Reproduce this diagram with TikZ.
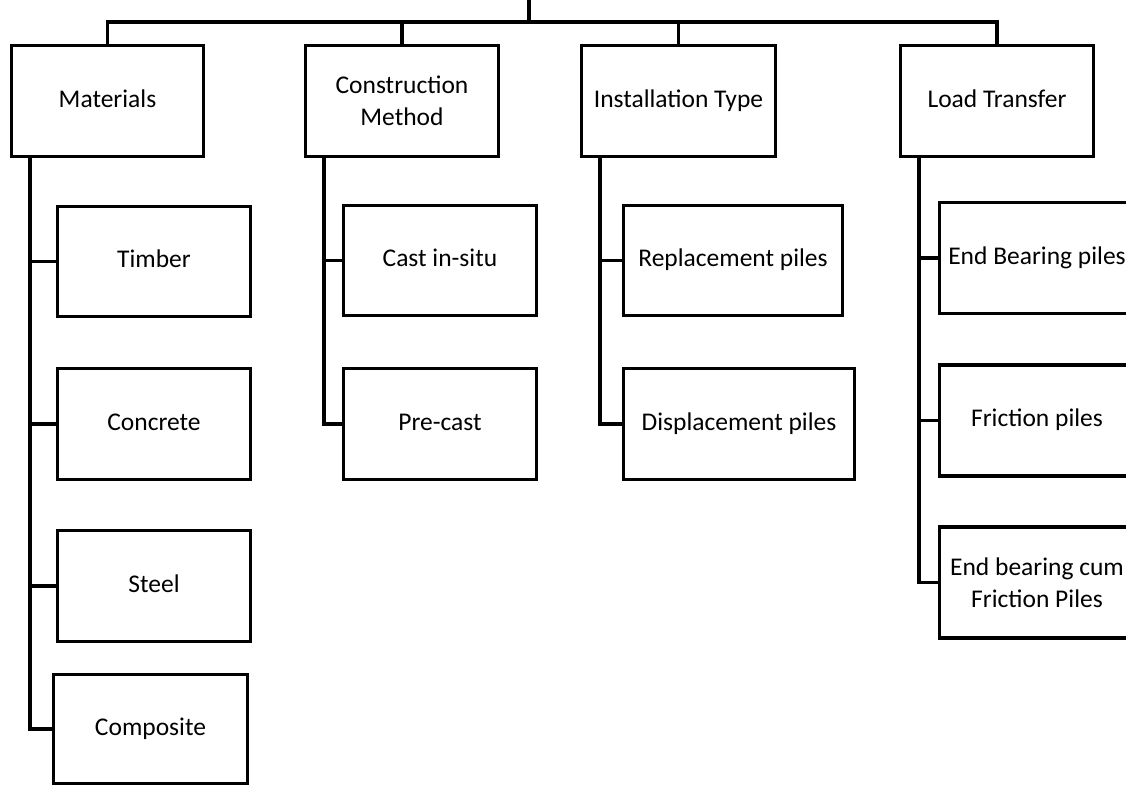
\documentclass[tikz,border=0pt]{standalone}
\usepackage{fontspec}
\setmainfont{Carlito}
\usetikzlibrary{positioning}
\tikzset{
  box/.style={draw,line width=3.5pt,minimum width=193pt,minimum height=111pt,
    inner sep=2pt,align=center,text height=17pt,text depth=5pt,
    font=\fontsize{25.5}{32}\selectfont},
  twoline/.style={text height=,text depth=},
  link/.style={line width=3.5pt}
}

\begin{document}
\begin{tikzpicture}[x=1pt,y=-1pt]
  \useasboundingbox (0,0) rectangle (1126,789);
  % top row
  \node[box,minimum width=192pt] (mat) at (107.5,101) {Materials};
  \node[box,twoline] (con) at (402,101) {Construction\\Method};
  \node[box,minimum width=194pt] (ins) at (678.5,101) {Installation Type};
  \node[box] (load) at (997,101) {Load Transfer};
  % children
  \node[box,minimum height=110pt] (timber) at (154,261.5) {Timber};
  \node[box] (concrete) at (154,424) {Concrete};
  \node[box] (steel) at (154,586) {Steel};
  \node[box,minimum height=109pt,minimum width=194pt] (composite) at (150.5,729) {Composite};
  \node[box,minimum height=110pt] (cast) at (440,260.5) {Cast in-situ};
  \node[box] (precast) at (440,424) {Pre-cast};
  \node[box,minimum height=110pt,minimum width=219pt] (repl) at (733,260.5) {Replacement piles};
  \node[box,minimum width=231pt] (displ) at (739,424) {Displacement piles};
  \node[box,minimum width=195pt] (endb) at (1037,258) {End Bearing piles};
  \node[box,minimum width=195pt] (fric) at (1037,420.5) {Friction piles};
  \node[box,twoline,minimum width=195pt] (cum) at (1037,582.5) {End bearing cum\\Friction Piles};
  % root bar
  \coordinate (root) at (529,0);
  \coordinate (bar) at (529,22);
  \draw[link] (root) -- (bar);
  \draw[link] (mat.north) |- (bar) -| (load.north);
  \foreach \n in {con,ins} {
    \draw[link] (\n.north) -- (\n.north |- bar);
  }
  % branches
  \foreach \p/\c in {mat/timber,mat/concrete,mat/steel,mat/composite,
      con/cast,con/precast,ins/repl,ins/displ,
      load/endb,load/fric,load/cum} {
    \draw[link] ([xshift=20pt]\p.south west) |- (\c.west);
  }
\end{tikzpicture}
\end{document}
